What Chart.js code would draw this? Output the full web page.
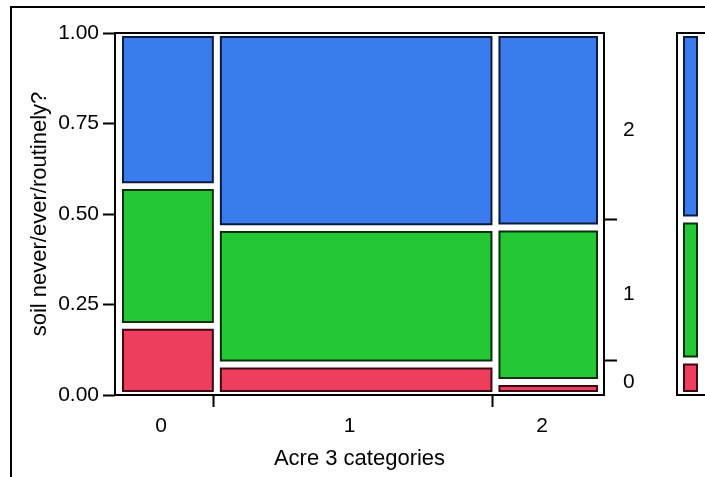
<!DOCTYPE html>
<html>
<head>
<meta charset="utf-8">
<script src="https://cdn.jsdelivr.net/npm/chart.js@4.4.0/dist/chart.umd.min.js"></script>
<style>
    html, body { margin: 0; padding: 0; background: #fff; overflow: hidden; }
    #wrap { position: relative; width: 705px; height: 477px; overflow: hidden; }
    #main { position: absolute; left: 0; top: 0; }
    #side { position: absolute; left: 660px; top: 0; }
</style>
</head>
<body>
<div id="wrap">
    <canvas id="main" width="705" height="477"></canvas>
    <canvas id="side" width="60" height="477"></canvas>
</div>
<script>

const acreCats = ['0', '1', '2'];
const acreShare = [0.203, 0.578, 0.219];   // column widths
const soilCats = ['0', '1', '2'];
const soil0 = [0.191, 0.084, 0.036];       // share within each acre column
const soil1 = [0.386, 0.377, 0.427];
const soil2 = [0.423, 0.539, 0.537];
const yTicks = [0, 0.25, 0.5, 0.75, 1];

const fills = ['#ef3d5e', '#24c834', '#3a7bed'];
const edges = ['#3a0a14', '#0a2e0e', '#0c1a3c'];
const font = { family: 'Liberation Sans, Arial, sans-serif', size: 21 };
const titleFont = { family: 'Liberation Sans, Arial, sans-serif', size: 22 };

Chart.defaults.font.family = font.family;
Chart.defaults.color = '#000';

// Tiles as closed filled lines

function tile(x0, x1, y0, y1, k, gx, gy) {
    const l = x0 + gx, r = x1 - gx, b = y0 + gy, t = y1 - gy;
    return {
        data: [{ x: l, y: b }, { x: r, y: b }, { x: r, y: t }, { x: l, y: t }, { x: l, y: b }],
        fill: 'shape',
        tension: 0,
        backgroundColor: fills[k],
        borderColor: edges[k],
        borderWidth: 2,
        borderCapStyle: 'square',
        pointRadius: 0,
        pointHoverRadius: 0
    };
}

const shares = [soil0, soil1, soil2];
const mainSets = [];
let xStart = 0;
acreShare.forEach((w, c) => {
    let yStart = 0;
    shares.forEach((s, k) => {
        mainSets.push(tile(xStart, xStart + w, yStart, yStart + s[c], k, 0.0083, 0.011));
        yStart += s[c];
    });
    xStart += w;
});

// marginal share of each soil answer
const margin = shares.map(s => s.reduce((sum, v, c) => sum + v * acreShare[c], 0));
const sideSets = [];
let acc = 0;
margin.forEach((m, k) => {
    sideSets.push(tile(0, 1, acc, acc + m, k, 0.19, 0.011));
    acc += m;
});

// Ticks: boundaries get a mark, centres get a label

let run = 0;
const xTickList = [];
acreShare.forEach((w, c) => {
    xTickList.push({ value: run + w / 2, name: acreCats[c] });
    if (c < acreShare.length - 1) xTickList.push({ value: run + w, name: '', mark: true });
    run += w;
});

const yRightList = [];
run = 0;
margin.forEach((m, k) => {
    yRightList.push({ value: run + m / 2, name: soilCats[k] });
    if (k < margin.length - 1) yRightList.push({ value: run + m, name: '', mark: true });
    run += m;
});

const tickColor = ctx => (ctx.tick && ctx.tick.mark ? '#000' : 'rgba(0,0,0,0)');
const tickName = (value, index, ticks) => ticks[index].name;

const framePlugin = {
    id: 'frame',
    afterDatasetsDraw(chart, args, opts) {
        const { ctx, chartArea: a } = chart;
        ctx.save();
        ctx.strokeStyle = '#000';
        ctx.lineWidth = 2;
        ctx.strokeRect(a.left, a.top, a.right - a.left, a.bottom - a.top);
        if (opts.outer) {
            ctx.beginPath();
            ctx.moveTo(11, chart.height);
            ctx.lineTo(11, 7);
            ctx.lineTo(chart.width, 7);
            ctx.stroke();
        }
        ctx.restore();
    }
};

new Chart(document.getElementById('main'), {
    type: 'line',
    data: { datasets: mainSets },
    plugins: [framePlugin],
    options: {
        responsive: false,
        animation: false,
        events: [],
        layout: { padding: { top: 33, left: 0, right: 0, bottom: 0 } },
        plugins: { legend: { display: false }, tooltip: { enabled: false }, frame: { outer: true } },
        scales: {
            x: { type: 'linear', display: false, min: -0.0083, max: 1.0062 },
            xAxis: {
                type: 'linear',
                position: 'bottom',
                min: 0,
                max: 1.0124,
                afterFit: s => { s.height = 82; },
                afterBuildTicks: s => { s.ticks = xTickList.map(t => ({ ...t })); },
                border: { display: false },
                grid: { drawOnChartArea: false, tickLength: 12, tickWidth: 2, tickColor: tickColor },
                ticks: { autoSkip: false, maxRotation: 0, padding: 7, labelOffset: -3, font: font, color: '#000', callback: tickName },
                title: { display: true, text: 'Acre 3 categories', font: titleFont, color: '#000', padding: { top: 0, bottom: 5 } }
            },
            y: {
                type: 'linear',
                position: 'left',
                min: 0,
                max: 1,
                afterFit: s => { s.width = 115; },
                afterBuildTicks: s => { s.ticks = yTicks.map(v => ({ value: v })); },
                border: { display: false },
                grid: { drawOnChartArea: false, tickLength: 12, tickWidth: 2, tickColor: '#000' },
                ticks: { padding: 4, font: font, color: '#000', callback: v => v.toFixed(2) },
                title: { display: true, text: 'soil never/ever/routinely?', font: titleFont, color: '#000', padding: { top: 27, bottom: 0 } }
            },
            y2: {
                type: 'linear',
                position: 'right',
                min: 0,
                max: 1,
                afterFit: s => { s.width = 101; },
                afterBuildTicks: s => { s.ticks = yRightList.map(t => ({ ...t })); },
                border: { display: false },
                grid: { drawOnChartArea: false, tickLength: 13, tickWidth: 2, tickColor: tickColor },
                ticks: { autoSkip: false, padding: 6, labelOffset: 4, font: font, color: '#000', callback: tickName }
            }
        }
    }
});

new Chart(document.getElementById('side'), {
    type: 'line',
    data: { datasets: sideSets },
    plugins: [framePlugin],
    options: {
        responsive: false,
        animation: false,
        events: [],
        layout: { padding: { top: 33, left: 17, right: 13, bottom: 82 } },
        plugins: { legend: { display: false }, tooltip: { enabled: false }, frame: { outer: false } },
        scales: {
            x: { type: 'linear', display: false, min: -0.1429, max: 1.2857 },
            y: { type: 'linear', display: false, min: 0, max: 1 }
        }
    }
});
</script>
</body>
</html>
